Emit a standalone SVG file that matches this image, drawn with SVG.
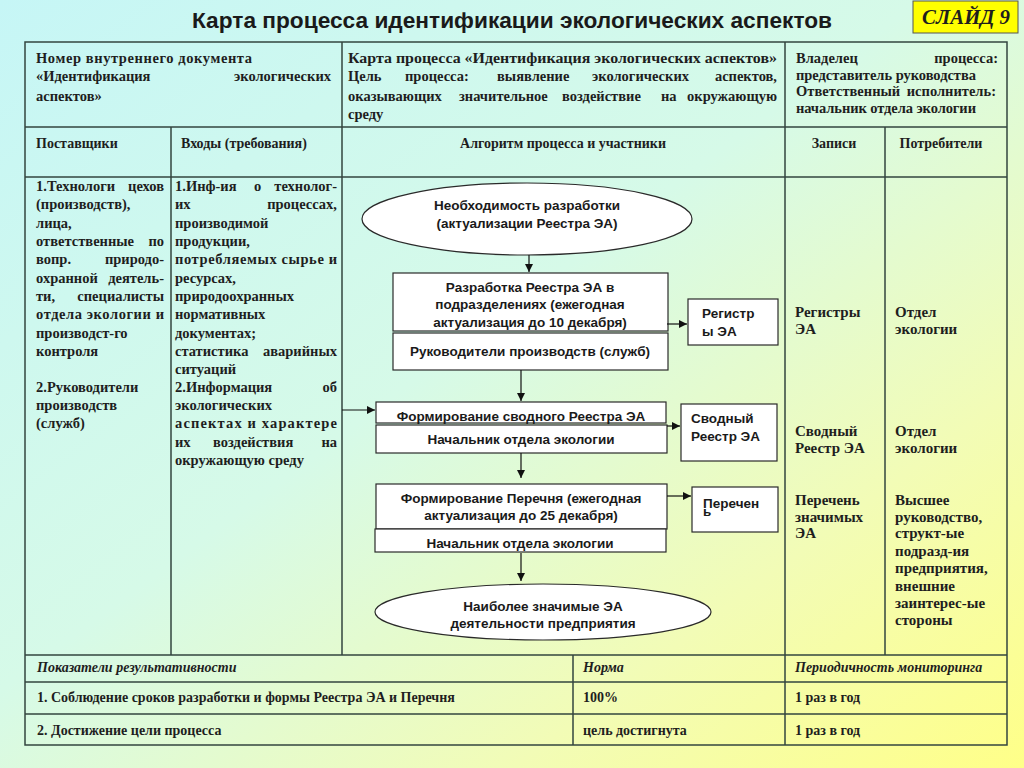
<svg xmlns="http://www.w3.org/2000/svg" width="1024" height="768" viewBox="0 0 1024 768">
<defs>
<linearGradient id="bg" x1="0" y1="0" x2="1" y2="1">
<stop offset="0" stop-color="#c6f6f6"/>
<stop offset="0.45" stop-color="#d6fae8"/>
<stop offset="0.75" stop-color="#f2fcb6"/>
<stop offset="1" stop-color="#ffff88"/>
</linearGradient>
<marker id="ah" viewBox="0 0 8 8" refX="8" refY="4" markerWidth="8" markerHeight="8" markerUnits="userSpaceOnUse" orient="auto">
<path d="M0,0 L8,4 L0,8 z" fill="#111"/>
</marker>
<style>
.t{font-family:"Liberation Serif","Times New Roman",serif;font-weight:bold;font-size:15px;fill:#1e1e1e}
.m{font-size:14.5px}
.h{font-size:14.5px}
.i{font-style:italic;font-size:14px}
.b{font-size:14px}
.s{font-family:"Liberation Sans",Arial,sans-serif;font-weight:bold;font-size:13.5px;fill:#1a1a1a}
.c{text-anchor:middle}
.r{text-anchor:end}
.bx{fill:#ffffff;stroke:#2a2a2a;stroke-width:1.2}
.ln{stroke:#33453f;stroke-width:1.5;fill:none}
.cn{stroke:#111;stroke-width:1.2;fill:none;marker-end:url(#ah)}
</style>
</defs>
<rect x="0" y="0" width="1024" height="768" fill="url(#bg)"/>

<g id="title">
<text x="512" y="28" class="s c" style="font-size:22px" textLength="640" lengthAdjust="spacingAndGlyphs">Карта процесса идентификации экологических аспектов</text>
</g>
<g id="slide-label">
<rect x="913" y="1" width="105" height="32" fill="#ffff00" stroke="#555" stroke-width="1"/>
<text x="966" y="24" class="t c" style="font-style:italic;font-size:20px" textLength="88" lengthAdjust="spacingAndGlyphs">СЛАЙД 9</text>
</g>

<g id="table">
<rect x="25" y="42" width="982" height="703" class="ln"/>
<path class="ln" d="M25,127H1007 M25,177H1007 M25,655H1007 M25,682H1007 M25,714H1007 M342,42V655 M785,42V745 M171,127V655 M885,127V655 M573,655V745"/>
</g>

<g id="header-row1">
<text x="36" y="63" class="t h" textLength="216">Номер внутреннего документа</text>
<text x="36" y="81" class="t h">«Идентификация</text>
<text x="331" y="81" class="t h r">экологических</text>
<text x="36" y="101" class="t h">аспектов»</text>
<text x="348" y="63" class="t h" textLength="429" lengthAdjust="spacingAndGlyphs">Карта процесса «Идентификация экологических аспектов»</text>
<text x="348" y="81" class="t h">Цель</text>
<text x="405" y="81" class="t h">процесса:</text>
<text x="497" y="81" class="t h">выявление</text>
<text x="592" y="81" class="t h">экологических</text>
<text x="777" y="81" class="t h r">аспектов,</text>
<text x="348" y="101" class="t h">оказывающих</text>
<text x="459" y="101" class="t h">значительное</text>
<text x="562" y="101" class="t h">воздействие</text>
<text x="661" y="101" class="t h">на</text>
<text x="777" y="101" class="t h r">окружающую</text>
<text x="348" y="119" class="t h">среду</text>
<text x="796" y="63" class="t h">Владелец</text>
<text x="998" y="63" class="t h r">процесса:</text>
<text x="796" y="80" class="t h" textLength="180">представитель руководства</text>
<text x="796" y="96" class="t h">Ответственный</text>
<text x="996" y="96" class="t h r">исполнитель:</text>
<text x="796" y="113" class="t h" textLength="180">начальник отдела экологии</text>
</g>

<g id="header-row2">
<text x="36" y="148" class="t b">Поставщики</text>
<text x="181" y="148" class="t b">Входы (требования)</text>
<text x="563" y="148" class="t b c">Алгоритм процесса и участники</text>
<text x="834" y="148" class="t b c">Записи</text>
<text x="941" y="148" class="t b c">Потребители</text>
</g>

<g id="suppliers">
<text x="36" y="191" class="t m">1.Технологи</text><text x="164" y="191" class="t m r">цехов</text>
<text x="36" y="209" class="t m">(производств),</text>
<text x="36" y="228" class="t m">лица,</text>
<text x="36" y="246" class="t m">ответственные</text><text x="164" y="246" class="t m r">по</text>
<text x="36" y="264" class="t m">вопр.</text><text x="164" y="264" class="t m r">природо-</text>
<text x="36" y="283" class="t m">охранной</text><text x="164" y="283" class="t m r">деятель-</text>
<text x="36" y="301" class="t m">ти,</text><text x="164" y="301" class="t m r">специалисты</text>
<text x="36" y="319" class="t m" textLength="128">отдела экологии и</text>
<text x="36" y="338" class="t m">производст-го</text>
<text x="36" y="356" class="t m">контроля</text>
<text x="36" y="392" class="t m">2.Руководители</text>
<text x="36" y="410" class="t m">производств</text>
<text x="36" y="428" class="t m">(служб)</text>
</g>

<g id="inputs">
<text x="175" y="191" class="t m">1.Инф-ия</text><text x="254" y="191" class="t m">о</text><text x="337" y="191" class="t m r">технолог-</text>
<text x="175" y="209" class="t m">их</text><text x="337" y="209" class="t m r">процессах,</text>
<text x="175" y="228" class="t m">производимой</text>
<text x="175" y="246" class="t m">продукции,</text>
<text x="175" y="264" class="t m" textLength="162">потребляемых сырье и</text>
<text x="175" y="283" class="t m">ресурсах,</text>
<text x="175" y="301" class="t m">природоохранных</text>
<text x="175" y="319" class="t m">нормативных</text>
<text x="175" y="338" class="t m">документах;</text>
<text x="175" y="356" class="t m">статистика</text><text x="337" y="356" class="t m r">аварийных</text>
<text x="175" y="374" class="t m">ситуаций</text>
<text x="175" y="392" class="t m">2.Информация</text><text x="337" y="392" class="t m r">об</text>
<text x="175" y="410" class="t m">экологических</text>
<text x="175" y="428" class="t m" textLength="162">аспектах и характере</text>
<text x="175" y="447" class="t m">их</text><text x="213" y="447" class="t m">воздействия</text><text x="337" y="447" class="t m r">на</text>
<text x="175" y="465" class="t m">окружающую среду</text>
</g>

<g id="records">
<text x="795" y="317" class="t">Регистры</text>
<text x="795" y="334" class="t">ЭА</text>
<text x="795" y="436" class="t">Сводный</text>
<text x="795" y="453" class="t">Реестр ЭА</text>
<text x="795" y="505" class="t">Перечень</text>
<text x="795" y="522" class="t">значимых</text>
<text x="795" y="538" class="t">ЭА</text>
</g>

<g id="consumers">
<text x="895" y="317" class="t">Отдел</text>
<text x="895" y="334" class="t">экологии</text>
<text x="895" y="436" class="t">Отдел</text>
<text x="895" y="453" class="t">экологии</text>
<text x="895" y="505" class="t">Высшее</text>
<text x="895" y="522" class="t">руководство,</text>
<text x="895" y="538" class="t">структ-ые</text>
<text x="895" y="556" class="t">подразд-ия</text>
<text x="895" y="573" class="t">предприятия,</text>
<text x="895" y="591" class="t">внешние</text>
<text x="895" y="608" class="t">заинтерес-ые</text>
<text x="895" y="625" class="t">стороны</text>
</g>

<g id="kpi">
<text x="37" y="672" class="t i">Показатели результативности</text>
<text x="583" y="672" class="t i">Норма</text>
<text x="795" y="672" class="t i">Периодичность мониторинга</text>
<text x="37" y="702" class="t b">1. Соблюдение сроков разработки и формы Реестра  ЭА и Перечня</text>
<text x="583" y="702" class="t b">100%</text>
<text x="795" y="702" class="t b">1 раз в год</text>
<text x="37" y="735" class="t b">2. Достижение цели процесса</text>
<text x="583" y="735" class="t b">цель достигнута</text>
<text x="795" y="735" class="t b">1 раз в год</text>
</g>

<g id="n-start">
<ellipse cx="527" cy="219" rx="165" ry="36" class="bx"/>
<text x="527" y="210" class="s c">Необходимость разработки</text>
<text x="527" y="228" class="s c">(актуализации Реестра ЭА)</text>
</g>
<g id="n-develop">
<rect x="393" y="273" width="275" height="58" class="bx"/>
<text x="530" y="292" class="s c">Разработка Реестра ЭА в</text>
<text x="530" y="309" class="s c">подразделениях (ежегодная</text>
<text x="530" y="327" class="s c">актуализация до 10 декабря)</text>
</g>
<g id="n-develop-who">
<rect x="393" y="333" width="275" height="37" class="bx"/>
<text x="530" y="356" class="s c">Руководители производств (служб)</text>
</g>
<g id="n-summary">
<rect x="376" y="402" width="290" height="21" class="bx"/>
<text x="521" y="421" class="s c">Формирование сводного Реестра ЭА</text>
</g>
<g id="n-summary-who">
<rect x="376" y="425" width="291" height="28" class="bx"/>
<text x="521" y="444" class="s c">Начальник отдела экологии</text>
</g>
<g id="n-list">
<rect x="376" y="484" width="291" height="45" class="bx"/>
<text x="521" y="503" class="s c">Формирование Перечня (ежегодная</text>
<text x="521" y="520" class="s c">актуализация до 25 декабря)</text>
</g>
<g id="n-list-who">
<rect x="375" y="529" width="291" height="23" class="bx"/>
<text x="520" y="548" class="s c">Начальник отдела экологии</text>
</g>
<g id="n-end">
<ellipse cx="543" cy="612" rx="168" ry="28" class="bx"/>
<text x="543" y="611" class="s c">Наиболее значимые ЭА</text>
<text x="543" y="628" class="s c">деятельности предприятия</text>
</g>
<g id="r-registers">
<rect x="688" y="299" width="90" height="46" class="bx"/>
<text x="702" y="318" class="s">Регистр</text>
<text x="702" y="336" class="s">ы ЭА</text>
</g>
<g id="r-summary">
<rect x="681" y="404" width="96" height="57" class="bx"/>
<text x="691" y="423" class="s">Сводный</text>
<text x="691" y="441" class="s">Реестр ЭА</text>
</g>
<g id="r-list">
<rect x="692" y="487" width="86" height="45" class="bx"/>
<text x="703" y="508" class="s">Перечен</text>
<text x="703" y="516" class="s">ь</text>
</g>

<g id="connectors">
<path class="cn" d="M529,255V272"/>
<path class="cn" d="M521,370V401"/>
<path class="cn" d="M521,453V478"/>
<path class="cn" d="M521,553V581"/>
<path class="cn" d="M342,410H375"/>
<path class="cn" d="M667,324H687"/>
<path class="cn" d="M667,426H680"/>
<path class="cn" d="M667,496H691"/>
</g>
</svg>
